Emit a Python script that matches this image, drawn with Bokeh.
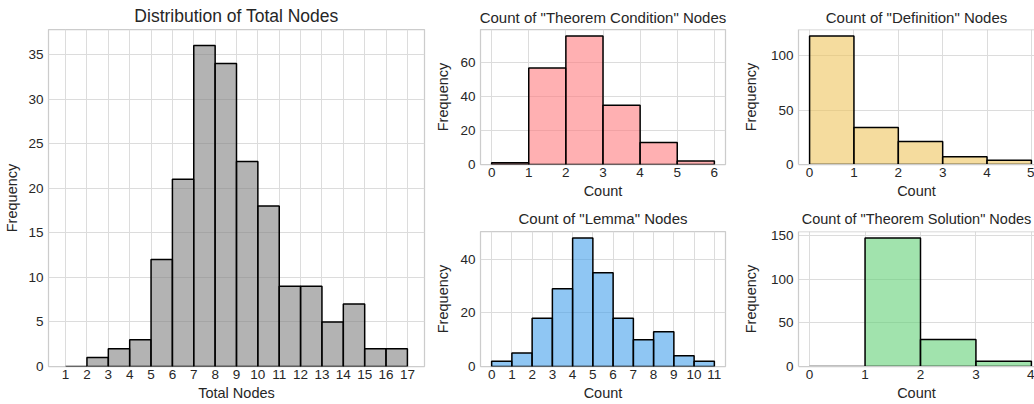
from bokeh.plotting import figure
from bokeh.layouts import row, column
from bokeh.models import FixedTicker, Range1d, Span
from bokeh.embed import file_html
from bokeh.resources import INLINE

# ---- data (histogram bin edges and counts) ----
total_edges = list(range(1, 18))
total_counts = [0, 1, 2, 3, 12, 21, 36, 34, 23, 18, 9, 9, 5, 7, 2, 2]
total_xticks = list(range(1, 18))
total_yticks = [0, 5, 10, 15, 20, 25, 30, 35]

cond_edges = [0, 1, 2, 3, 4, 5, 6]
cond_counts = [1, 57, 76, 35, 13, 2]
cond_xticks = [0, 1, 2, 3, 4, 5, 6]
cond_yticks = [0, 20, 40, 60]

def_edges = [0, 1, 2, 3, 4, 5]
def_counts = [118, 34, 21, 7, 4]
def_xticks = [0, 1, 2, 3, 4, 5]
def_yticks = [0, 50, 100]

lemma_edges = list(range(0, 12))
lemma_counts = [2, 5, 18, 29, 48, 35, 18, 10, 13, 4, 2]
lemma_xticks = list(range(0, 12))
lemma_yticks = [0, 20, 40]

sol_edges = [0, 1, 2, 3, 4]
sol_counts = [0, 147, 31, 6]
sol_xticks = [0, 1, 2, 3, 4]
sol_yticks = [0, 50, 100, 150]

FONT = "Liberation Sans"
TXT = "#262626"
SPINE = "#cccccc"


def hist(title, edges, counts, color, xr, yr, xticks, yticks, width, height,
         bl, br, bt, bb, xlabel, title_size="15px", title_standoff=8,
         ylabel_standoff=5, clipped=False):
    p = figure(width=width, height=height, x_range=Range1d(*xr), y_range=Range1d(*yr),
               output_backend="svg", toolbar_location=None,
               min_border_left=bl, min_border_right=br, min_border_top=bt,
               min_border_bottom=bb)
    p.title.text = title
    p.title.align = "center"
    p.title.text_font = FONT
    p.title.text_font_size = title_size
    p.title.text_font_style = "normal"
    p.title.text_color = TXT
    p.title.standoff = title_standoff
    p.quad(left=edges[:-1], right=edges[1:], bottom=0, top=counts,
           fill_color=color, fill_alpha=0.6, line_color="black", line_width=1.5)
    p.xaxis.ticker = FixedTicker(ticks=xticks)
    p.yaxis.ticker = FixedTicker(ticks=yticks)
    p.xgrid.ticker = FixedTicker(ticks=xticks)
    p.ygrid.ticker = FixedTicker(ticks=yticks)
    p.xaxis.axis_label = xlabel
    p.yaxis.axis_label = "Frequency"
    for ax in (p.xaxis[0], p.yaxis[0]):
        ax.axis_line_color = None
        ax.major_tick_line_color = None
        ax.minor_tick_line_color = None
        ax.major_tick_out = 0
        ax.major_tick_in = 0
        ax.minor_tick_out = 0
        ax.minor_tick_in = 0
        ax.major_label_text_font = FONT
        ax.major_label_text_font_size = "13.5px"
        ax.major_label_text_color = TXT
        ax.axis_label_text_font = FONT
        ax.axis_label_text_font_size = "14.5px"
        ax.axis_label_text_font_style = "normal"
        ax.axis_label_text_color = TXT
    p.xaxis.major_label_standoff = 3
    p.xaxis.axis_label_standoff = 3
    p.yaxis.major_label_standoff = 5
    p.yaxis.axis_label_standoff = ylabel_standoff
    p.grid.grid_line_color = "#dcdcdc"
    p.grid.grid_line_width = 1
    if not clipped:
        p.outline_line_color = SPINE
        p.outline_line_width = 1.25
        p.outline_line_alpha = 1
    else:
        # right edge of the axes lies outside the picture: draw only left, bottom, top
        p.outline_line_color = None
        for ax in (p.xaxis[0], p.yaxis[0]):
            ax.axis_line_color = SPINE
            ax.axis_line_width = 1.25
        p.add_layout(Span(location=yr[1], dimension="width", line_color=SPINE,
                          line_width=1.25))
    p.background_fill_color = "white"
    p.border_fill_color = "white"
    return p


gray = "#808080"
pink = "#ff7b7f"
yellow = "#eec55d"
blue = "#44a0eb"
green = "#62d076"

p_total = hist("Distribution of Total Nodes", total_edges, total_counts, gray,
               (0.2, 17.8), (0, 37.8), total_xticks, total_yticks,
               432, 404, 48, 8, 29, 38, "Total Nodes", title_size="17.5px",
               title_standoff=7, ylabel_standoff=5)

p_cond = hist('Count of "Theorem Condition" Nodes', cond_edges, cond_counts, pink,
              (-0.3, 6.3), (0, 79.8), cond_xticks, cond_yticks,
              303, 202, 47, 10, 29, 38, "Count", title_standoff=8, ylabel_standoff=6)
p_lemma = hist('Count of "Lemma" Nodes', lemma_edges, lemma_counts, blue,
               (-0.55, 11.55), (0, 50.4), lemma_xticks, lemma_yticks,
               303, 202, 47, 10, 29, 38, "Count", title_standoff=10, ylabel_standoff=6)

p_def = hist('Count of "Definition" Nodes', def_edges, def_counts, yellow,
             (-0.25, 5.07), (0, 123.9), def_xticks, def_yticks,
             299, 202, 63, 0, 29, 38, "Count", title_standoff=8, ylabel_standoff=9,
             clipped=True)
p_sol = hist('Count of "Theorem Solution" Nodes', sol_edges, sol_counts, green,
             (-0.2, 4.056), (0, 154.4), sol_xticks, sol_yticks,
             299, 202, 63, 0, 29, 38, "Count", title_size="14.5px", title_standoff=10,
             ylabel_standoff=9, clipped=True)

layout = row(p_total, column(p_cond, p_lemma), column(p_def, p_sol))

open("out.html", "w").write(file_html(layout, INLINE))
